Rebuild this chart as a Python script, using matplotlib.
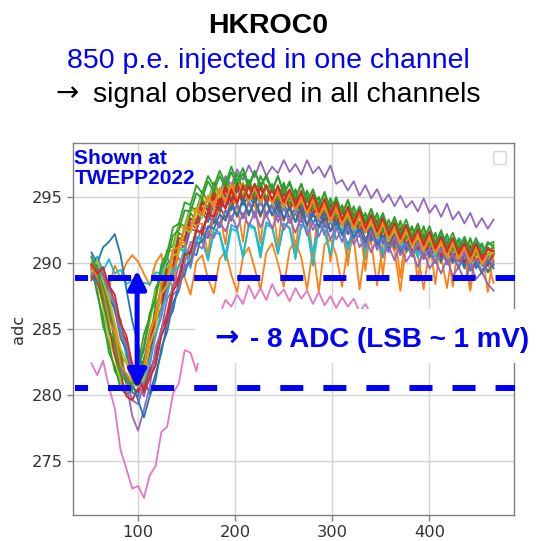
import numpy as np
import matplotlib
matplotlib.use("Agg")
import matplotlib.pyplot as plt
from matplotlib.patches import Rectangle

plt.rcParams["lines.scale_dashes"] = False

# ADC readings per channel; first sample at 52, one reading every 6 samples
first_sample = 52
sample_step = 6

blue_a = [289.5, 290.1, 288.3, 286.8, 284.9, 282.1, 281.6, 280.2, 279.9, 281.9, 283.0, 285.6, 286.4, 288.9, 289.2, 291.1, 290.9, 292.6, 292.4, 293.9, 293.1, 294.5, 293.8, 295.2, 294.0, 295.6, 294.4, 295.1, 294.3, 295.7, 294.6, 295.0, 293.9, 295.3, 294.1, 294.8, 293.5, 294.9, 293.7, 294.2, 292.9, 294.1, 293.0, 293.4, 292.2, 293.6, 292.4, 292.8, 291.6, 292.9, 291.5, 292.3, 291.0, 292.2, 290.8, 291.7, 290.5, 291.8, 290.4, 291.2, 290.0, 291.3, 290.1, 290.6, 289.6, 290.9, 289.7, 290.4, 289.3, 290.1]
orange_saw = [289.6, 288.7, 289.4, 288.1, 289.8, 288.9, 290.0, 290.6, 290.1, 289.2, 288.3, 290.0, 290.7, 287.9, 289.8, 290.4, 288.9, 287.6, 290.1, 290.6, 288.8, 287.7, 290.3, 290.9, 289.1, 287.8, 290.5, 291.2, 289.6, 288.0, 290.8, 291.5, 290.0, 288.2, 291.0, 291.7, 290.4, 288.0, 291.1, 287.8, 291.4, 291.8, 290.6, 288.2, 291.3, 291.9, 288.0, 291.2, 291.6, 288.3, 291.4, 291.9, 290.9, 287.9, 291.3, 291.7, 290.6, 288.0, 291.2, 291.6, 290.5, 288.1, 291.1, 291.5, 290.4, 287.9, 290.9, 291.3, 290.0, 288.5]
green_a = [289.3, 288.0, 285.2, 283.9, 281.8, 281.1, 280.3, 281.2, 282.3, 284.6, 285.9, 288.1, 289.0, 291.0, 291.3, 293.0, 292.8, 294.3, 294.0, 295.4, 294.7, 296.1, 295.2, 296.5, 295.4, 296.8, 295.5, 296.3, 295.2, 296.6, 295.6, 296.0, 294.9, 296.1, 294.8, 295.6, 294.4, 295.5, 294.3, 295.0, 293.8, 294.9, 293.5, 294.3, 293.1, 294.2, 292.9, 293.6, 292.5, 293.7, 292.3, 293.0, 291.9, 293.1, 291.8, 292.6, 291.4, 292.7, 291.3, 292.0, 290.9, 292.1, 290.8, 291.6, 290.5, 291.8, 290.4, 291.3, 290.2, 291.1]
red_a = [288.9, 289.3, 287.6, 286.5, 284.0, 282.9, 280.8, 280.6, 280.2, 281.9, 282.8, 285.5, 286.6, 288.9, 289.3, 291.5, 291.2, 293.0, 292.6, 294.2, 293.5, 295.0, 294.0, 295.6, 294.5, 295.9, 294.7, 295.8, 294.6, 296.0, 294.8, 295.6, 294.4, 295.7, 294.3, 295.1, 293.9, 295.2, 293.8, 294.6, 293.4, 294.7, 293.1, 294.0, 292.8, 293.9, 292.5, 293.3, 292.1, 293.4, 291.9, 292.8, 291.6, 292.7, 291.3, 292.2, 291.0, 292.3, 290.9, 291.7, 290.5, 291.8, 290.4, 291.2, 290.1, 291.4, 290.0, 290.9, 289.8, 290.7]
purple_top = [290.4, 289.5, 288.8, 286.4, 284.6, 282.0, 281.2, 279.6, 279.3, 280.9, 282.2, 284.6, 285.9, 288.2, 288.9, 291.0, 291.3, 293.1, 292.9, 294.6, 294.3, 295.8, 295.2, 296.6, 295.9, 297.1, 296.3, 297.4, 296.5, 297.7, 296.6, 297.3, 296.8, 297.8, 296.9, 297.5, 296.7, 297.8, 296.8, 297.3, 296.5, 297.4, 296.0, 296.3, 295.5, 296.2, 295.1, 295.9, 294.9, 295.6, 294.6, 295.2, 294.3, 295.1, 294.2, 294.7, 293.9, 294.9, 293.8, 294.4, 293.5, 294.5, 293.3, 293.9, 293.0, 293.8, 292.7, 293.4, 292.6, 293.3]
brown_a = [289.7, 290.2, 289.0, 288.6, 286.4, 285.7, 283.2, 282.4, 280.9, 280.6, 281.7, 283.1, 285.0, 286.2, 288.4, 289.0, 290.8, 290.9, 292.5, 292.2, 293.6, 293.0, 294.3, 293.4, 294.7, 293.6, 294.9, 293.8, 294.6, 293.5, 294.8, 293.7, 294.3, 293.2, 294.4, 293.1, 293.9, 292.8, 294.0, 292.7, 293.5, 292.4, 293.6, 292.2, 293.0, 291.9, 293.1, 291.8, 292.6, 291.5, 292.7, 291.4, 292.1, 291.0, 292.2, 290.9, 291.7, 290.6, 291.8, 290.5, 291.2, 290.2, 291.4, 290.1, 290.8, 289.8, 291.0, 289.8, 290.5, 290.2]
pink_a = [282.4, 281.5, 282.6, 280.6, 279.0, 275.8, 274.4, 272.9, 273.1, 272.2, 273.9, 274.6, 277.2, 277.6, 280.1, 280.9, 283.4, 283.2, 281.8, 284.2, 285.0, 286.3, 286.1, 287.2, 286.7, 287.6, 286.9, 288.3, 287.3, 288.1, 287.2, 288.4, 287.5, 288.0, 287.1, 288.1, 287.3, 287.9, 286.9, 287.8, 286.8, 287.5, 286.6, 287.4, 286.7, 287.3, 286.3, 286.9, 286.1, 286.2, 285.5, 285.8, 285.3, 285.6, 285.1, 285.3, 284.8, 285.4, 284.9, 285.0, 284.5, 285.1, 284.6, 284.8, 284.3, 284.9, 284.4, 284.6, 284.1, 284.4]
gray_a = [289.8, 288.6, 287.4, 284.8, 283.6, 281.7, 281.2, 280.7, 281.6, 282.6, 284.9, 286.0, 288.3, 289.2, 291.0, 291.1, 292.8, 292.6, 294.1, 293.6, 295.0, 294.2, 295.5, 294.5, 295.7, 294.8, 295.9, 294.7, 295.6, 294.4, 295.8, 294.5, 295.3, 294.1, 295.2, 293.9, 294.8, 293.6, 294.7, 293.4, 294.2, 293.0, 294.1, 292.8, 293.6, 292.5, 293.6, 292.3, 293.0, 291.9, 293.1, 291.8, 292.5, 291.4, 292.6, 291.3, 292.0, 291.0, 292.1, 290.8, 291.6, 290.6, 291.7, 290.4, 291.1, 290.2, 291.3, 290.1, 290.7, 290.9]
olive_a = [290.1, 288.9, 286.6, 284.3, 282.9, 280.9, 280.2, 280.9, 281.7, 284.1, 285.4, 287.9, 288.6, 290.8, 291.0, 292.8, 292.6, 294.1, 293.8, 295.2, 294.6, 295.9, 295.0, 296.2, 295.1, 296.3, 295.2, 296.0, 294.9, 296.1, 295.0, 295.6, 294.6, 295.8, 294.5, 295.2, 294.1, 295.3, 294.0, 294.7, 293.6, 294.8, 293.4, 294.1, 293.0, 294.1, 292.8, 293.5, 292.4, 293.6, 292.2, 293.0, 291.9, 293.0, 291.7, 292.4, 291.3, 292.5, 291.2, 291.9, 290.8, 292.0, 290.7, 291.4, 290.4, 291.6, 290.4, 291.1, 290.2, 291.4]
cyan_a = [289.9, 290.5, 289.4, 290.3, 289.2, 289.5, 288.4, 288.7, 287.9, 288.5, 288.4, 289.3, 289.2, 290.5, 289.1, 291.0, 291.0, 290.0, 292.0, 291.8, 290.3, 292.3, 292.2, 290.2, 292.6, 292.4, 290.6, 292.8, 292.6, 290.4, 292.9, 292.7, 290.7, 293.0, 292.6, 290.3, 292.9, 292.7, 289.8, 292.8, 292.5, 290.5, 292.7, 292.4, 290.2, 292.6, 292.3, 290.3, 292.5, 292.1, 290.4, 292.3, 292.0, 290.6, 292.2, 291.8, 290.4, 292.0, 291.7, 290.5, 291.9, 291.5, 290.3, 291.7, 291.3, 290.1, 291.5, 291.1, 289.8, 290.8]
blue_b = [290.8, 290.0, 291.2, 291.6, 292.2, 290.6, 288.0, 285.6, 283.9, 281.2, 280.1, 281.6, 283.2, 285.5, 286.4, 288.6, 289.1, 290.8, 290.6, 292.2, 291.9, 293.3, 292.7, 294.0, 293.2, 294.5, 293.4, 294.7, 293.6, 294.8, 293.7, 294.5, 293.5, 294.6, 293.4, 294.2, 293.1, 294.3, 293.0, 293.8, 292.7, 293.9, 292.5, 293.3, 292.2, 293.4, 292.0, 292.8, 291.7, 292.9, 291.5, 292.3, 291.2, 292.4, 291.0, 291.8, 290.7, 291.9, 290.5, 291.3, 290.2, 291.4, 290.0, 290.8, 289.7, 290.9, 289.6, 290.4, 289.3, 289.9]
orange_b = [289.2, 288.3, 288.6, 286.9, 285.2, 283.0, 282.4, 281.0, 281.2, 282.0, 284.4, 285.8, 288.1, 289.0, 288.1, 291.4, 291.6, 289.8, 292.9, 293.0, 290.6, 294.1, 293.8, 291.4, 294.8, 294.4, 291.6, 295.2, 294.6, 291.5, 295.0, 294.7, 291.2, 294.9, 294.4, 290.9, 294.6, 294.2, 290.5, 294.3, 293.9, 290.1, 293.9, 293.5, 289.8, 293.6, 293.1, 289.4, 293.2, 292.8, 289.1, 292.9, 292.4, 288.9, 292.6, 292.1, 288.6, 292.3, 291.8, 288.4, 292.0, 291.5, 288.2, 291.7, 291.3, 288.0, 291.4, 291.0, 287.8, 290.6]
green_b = [289.9, 287.6, 285.9, 283.2, 282.2, 280.5, 280.0, 280.4, 282.5, 283.6, 286.2, 287.2, 289.6, 290.3, 292.1, 292.5, 294.0, 293.9, 295.3, 294.9, 296.2, 295.4, 296.6, 295.7, 296.9, 295.8, 296.8, 295.7, 296.9, 295.9, 296.5, 295.4, 296.6, 295.3, 296.0, 294.9, 296.0, 294.7, 295.5, 294.3, 295.4, 294.0, 294.8, 293.7, 294.8, 293.4, 294.1, 293.0, 294.1, 292.8, 293.5, 292.4, 293.5, 292.2, 292.9, 291.9, 293.0, 291.7, 292.4, 291.3, 292.5, 291.2, 291.9, 290.9, 292.0, 290.8, 291.5, 290.6, 291.6, 291.2]
red_b = [288.7, 289.6, 288.9, 288.3, 287.0, 285.0, 284.1, 281.9, 281.3, 280.4, 281.9, 282.6, 285.0, 285.8, 288.2, 288.8, 290.7, 290.8, 292.5, 292.2, 293.8, 293.4, 294.8, 294.1, 295.5, 294.5, 295.9, 294.8, 296.0, 294.9, 295.8, 294.7, 295.9, 294.6, 295.4, 294.3, 295.5, 294.1, 294.9, 293.8, 294.9, 293.5, 294.3, 293.2, 294.3, 292.9, 293.7, 292.6, 293.7, 292.4, 293.1, 292.0, 293.1, 291.8, 292.6, 291.5, 292.6, 291.3, 292.0, 291.0, 292.1, 290.8, 291.6, 290.5, 291.7, 290.4, 291.1, 290.2, 291.2, 290.8]
purple_b = [289.5, 288.4, 287.9, 285.8, 284.6, 282.4, 280.9, 278.4, 277.3, 278.9, 280.6, 283.6, 284.9, 287.3, 288.0, 289.9, 290.0, 291.6, 291.5, 292.8, 292.5, 293.6, 292.9, 294.0, 293.3, 294.4, 293.4, 294.6, 293.4, 294.7, 293.5, 294.3, 293.1, 294.2, 293.0, 293.8, 292.6, 293.8, 292.5, 293.3, 292.1, 293.2, 291.8, 292.6, 291.4, 292.6, 291.2, 291.9, 290.8, 291.9, 290.6, 291.3, 290.2, 291.4, 290.1, 290.8, 289.7, 290.9, 289.6, 290.2, 289.2, 290.3, 289.0, 289.7, 288.7, 289.9, 288.8, 289.3, 288.4, 287.9]
cyan_b = [289.4, 289.9, 288.5, 288.1, 286.3, 285.1, 282.9, 281.7, 280.6, 281.0, 282.7, 284.4, 286.5, 287.6, 289.4, 289.7, 291.2, 289.6, 292.0, 291.7, 290.2, 292.6, 292.3, 290.6, 292.9, 292.6, 290.4, 293.0, 292.7, 290.9, 293.1, 292.8, 290.7, 293.0, 292.7, 290.5, 292.9, 292.6, 290.8, 292.8, 292.5, 290.6, 292.9, 292.6, 291.0, 292.8, 292.5, 290.9, 292.7, 292.4, 290.7, 292.6, 292.3, 290.8, 292.4, 292.1, 290.6, 292.2, 291.9, 290.5, 292.1, 291.8, 290.3, 291.9, 291.5, 290.1, 291.7, 291.3, 289.9, 290.7]
green_c = [289.0, 290.0, 288.2, 286.6, 284.1, 283.3, 281.0, 280.9, 280.7, 282.8, 283.9, 286.9, 287.6, 290.0, 290.3, 292.3, 291.9, 293.8, 293.2, 294.9, 294.0, 295.6, 294.5, 296.0, 294.8, 296.1, 294.9, 296.2, 294.9, 296.1, 294.9, 295.9, 294.6, 295.9, 294.4, 295.5, 294.2, 295.4, 294.0, 295.0, 293.7, 294.9, 293.4, 294.4, 293.1, 294.3, 292.9, 293.8, 292.5, 293.8, 292.3, 293.3, 292.0, 293.2, 291.8, 292.8, 291.5, 292.8, 291.3, 292.3, 291.0, 292.2, 290.9, 291.8, 290.6, 291.9, 290.6, 291.5, 290.4, 291.4]
red_c = [289.7, 288.7, 287.0, 285.2, 283.0, 281.6, 279.9, 279.6, 280.5, 282.3, 283.7, 286.2, 287.2, 289.5, 289.9, 291.9, 291.7, 293.4, 293.0, 294.6, 293.9, 295.3, 294.4, 295.8, 294.6, 296.0, 294.7, 295.9, 294.6, 295.8, 294.5, 295.6, 294.2, 295.4, 294.0, 295.0, 293.8, 294.9, 293.5, 294.6, 293.2, 294.4, 292.9, 294.0, 292.6, 293.7, 292.4, 293.3, 292.0, 293.2, 291.8, 292.8, 291.5, 292.6, 291.3, 292.2, 291.0, 292.1, 290.8, 291.7, 290.5, 291.6, 290.3, 291.2, 290.0, 291.3, 290.0, 290.8, 289.8, 290.7]
blue_c = [289.1, 288.6, 289.2, 287.4, 286.5, 284.3, 283.4, 280.9, 279.6, 278.3, 279.9, 281.1, 283.6, 284.8, 287.0, 287.9, 289.7, 290.1, 291.5, 291.6, 292.8, 292.6, 293.7, 293.2, 294.4, 293.5, 294.8, 293.6, 294.9, 293.7, 294.6, 293.6, 294.7, 293.4, 294.2, 293.1, 294.3, 292.9, 293.8, 292.7, 293.8, 292.4, 293.2, 292.1, 293.2, 291.9, 292.6, 291.5, 292.7, 291.3, 292.1, 291.0, 292.1, 290.8, 291.6, 290.5, 291.6, 290.3, 291.1, 290.0, 291.2, 289.9, 290.6, 289.6, 290.7, 289.4, 290.1, 289.2, 290.2, 289.6]
olive_b = [289.3, 290.2, 288.6, 287.4, 285.5, 283.5, 282.6, 280.8, 280.6, 281.3, 283.8, 285.1, 287.7, 288.3, 290.6, 290.7, 292.6, 292.3, 293.9, 293.4, 295.0, 294.2, 295.6, 294.6, 295.9, 294.8, 296.0, 294.7, 295.8, 294.6, 295.9, 294.5, 295.4, 294.2, 295.4, 294.0, 294.9, 293.7, 294.8, 293.5, 294.3, 293.1, 294.2, 292.9, 293.7, 292.5, 293.6, 292.3, 293.1, 291.9, 293.0, 291.7, 292.5, 291.4, 292.5, 291.2, 292.0, 290.9, 292.0, 290.7, 291.5, 290.4, 291.5, 290.3, 291.0, 290.0, 291.1, 289.9, 290.6, 290.8]
purple_c = [289.0, 289.7, 289.0, 288.0, 286.9, 284.6, 283.9, 281.4, 280.9, 279.9, 281.5, 282.3, 284.6, 285.4, 287.6, 288.1, 289.9, 289.8, 291.4, 291.1, 292.4, 291.9, 293.1, 292.4, 293.6, 292.6, 293.8, 292.8, 293.9, 292.7, 293.7, 292.6, 293.8, 292.5, 293.4, 292.3, 293.5, 292.1, 293.1, 292.0, 293.1, 291.8, 292.7, 291.6, 292.8, 291.4, 292.3, 291.2, 292.4, 291.0, 291.9, 290.8, 292.0, 290.6, 291.5, 290.5, 291.6, 290.3, 291.1, 290.1, 291.2, 289.9, 290.7, 289.7, 290.9, 289.5, 290.3, 289.4, 290.4, 289.8]
orange_c = [289.8, 288.9, 287.8, 285.6, 284.7, 282.3, 281.6, 280.9, 281.4, 282.1, 284.6, 286.1, 288.5, 289.0, 291.0, 291.2, 292.8, 292.6, 294.2, 293.7, 295.1, 294.3, 295.7, 294.6, 296.0, 294.8, 296.1, 294.8, 295.9, 294.7, 295.9, 294.6, 295.5, 294.3, 295.4, 294.0, 295.0, 293.8, 294.8, 293.5, 294.5, 293.2, 294.2, 292.9, 293.9, 292.6, 293.6, 292.3, 293.3, 292.0, 293.1, 291.8, 292.7, 291.5, 292.6, 291.3, 292.2, 291.0, 292.1, 290.8, 291.7, 290.5, 291.7, 290.4, 291.2, 290.1, 291.2, 290.0, 290.7, 291.0]
green_d = [290.5, 289.4, 287.3, 285.0, 283.9, 281.5, 281.0, 280.8, 282.0, 283.4, 286.0, 287.4, 289.9, 290.8, 292.7, 293.0, 294.6, 294.4, 295.9, 295.3, 296.6, 295.8, 297.0, 296.0, 297.3, 296.2, 297.2, 295.9, 297.0, 295.8, 296.7, 295.5, 296.6, 295.2, 296.2, 294.9, 296.0, 294.6, 295.6, 294.3, 295.3, 294.0, 295.0, 293.7, 294.7, 293.4, 294.3, 293.1, 294.1, 292.8, 293.8, 292.5, 293.4, 292.3, 293.3, 292.0, 292.9, 291.8, 292.8, 291.5, 292.4, 291.3, 292.3, 291.1, 291.9, 290.9, 291.9, 290.7, 291.4, 291.6]
red_d = [289.9, 289.2, 289.7, 288.3, 287.6, 285.4, 284.5, 282.3, 281.6, 280.2, 281.3, 282.2, 284.5, 285.6, 287.9, 288.6, 290.6, 290.8, 292.4, 292.4, 293.8, 293.5, 294.9, 294.2, 295.6, 294.6, 295.9, 294.9, 296.0, 294.9, 295.9, 294.8, 295.8, 294.6, 295.6, 294.4, 295.3, 294.1, 295.2, 293.9, 294.8, 293.6, 294.6, 293.3, 294.2, 293.0, 294.0, 292.7, 293.6, 292.4, 293.4, 292.2, 293.0, 291.9, 292.9, 291.6, 292.5, 291.4, 292.4, 291.1, 292.0, 290.9, 291.9, 290.7, 291.5, 290.5, 291.5, 290.3, 291.0, 290.9]

channels = [blue_a, orange_saw, green_a, red_a, purple_top, brown_a, pink_a, gray_a,
            olive_a, cyan_a, blue_b, orange_b, green_b, red_b, purple_b, cyan_b,
            green_c, red_c, blue_c, olive_b, purple_c, orange_c, green_d, red_d]
channel_colors = ["C0", "C1", "C2", "C3", "C4", "C5", "C6", "C7",
                  "C8", "C9", "C0", "C1", "C2", "C3", "C4", "C9",
                  "C2", "C3", "C0", "C8", "C4", "C1", "C2", "C3"]

x_ticks = [100, 200, 300, 400]
y_ticks = [275, 280, 285, 290, 295]
baseline_level = 288.9
minimum_level = 280.5

W, H = 537, 541
fig = plt.figure(figsize=(W / 100, H / 100), dpi=100)
fig.patch.set_facecolor("white")


def px(x, y):
    """figure pixel (from top-left) -> figure fraction"""
    return x / W, 1 - y / H


ax = fig.add_axes([73 / W, 1 - 515 / H, (514 - 73) / W, (515 - 143) / H])
for ys, c in zip(channels, channel_colors):
    xs = first_sample + sample_step * np.arange(len(ys))
    ax.plot(xs, ys, color=c, lw=1.3)

ax.set_xlim(33, 487)
ax.set_ylim(270.9, 299.1)
ax.set_xticks(x_ticks)
ax.set_yticks(y_ticks)
ax.grid(True, color="#d4d4d4", lw=1.0)
ax.set_axisbelow(True)
for s in ax.spines.values():
    s.set_color("#808080")
    s.set_linewidth(1.0)
ax.tick_params(colors="#808080", labelcolor="#333333", labelsize=11.7,
               length=4.5, width=1.0, pad=3)
ax.set_ylabel("adc", fontsize=11.7, color="#333333", labelpad=4)
ax.legend(handles=[], labels=[], loc="upper right", fontsize=11.7)

# reference levels and amplitude arrow
dash = (7.2, (16.6, 14.4))
for lvl in (baseline_level, minimum_level):
    ax.axhline(lvl, xmin=0.005, xmax=1.003, color="#0000ff", lw=4.3,
               linestyle=dash, clip_on=False, zorder=5)
ax.annotate("", xy=(99, 289.45), xytext=(99, 280.5),
            arrowprops=dict(arrowstyle="<|-|>,head_length=1.1,head_width=0.55",
                            mutation_scale=10, lw=3.6, color="#0000ff",
                            shrinkA=0, shrinkB=0), zorder=6)

ax.text(0.003, 0.985, "Shown at\nTWEPP2022", transform=ax.transAxes,
        ha="left", va="top", fontsize=15, fontweight="bold", color="#0000ff",
        family="Liberation Sans", linespacing=1.12, zorder=7)

# white label box over the plot
x0, y0 = px(195, 363)
x1, y1 = px(537, 309)
fig.add_artist(Rectangle((x0, y0), x1 - x0, y1 - y0, transform=fig.transFigure,
                         facecolor="white", edgecolor="none", zorder=10))
tx, ty = px(214, 339)
fig.text(tx, ty, "\u2192", ha="left", va="center", fontsize=21,
         fontweight="bold", color="#0000ff", family="DejaVu Sans", zorder=11)
tx, ty = px(250, 347)
fig.text(tx, ty, "- 8 ADC (LSB ~ 1 mV)", ha="left", va="baseline",
         fontsize=20, fontweight="bold", color="#0000ff",
         family="Liberation Sans", zorder=11)

# heading
hx, hy = px(268.5, 33)
fig.text(hx, hy, "HKROC0", ha="center", va="baseline", fontsize=20.5,
         fontweight="bold", family="Liberation Sans", color="black")
hx, hy = px(268.5, 68)
fig.text(hx, hy, "850 p.e. injected in one channel", ha="center", va="baseline",
         fontsize=20.5, family="Liberation Sans", color="#0000ff")
hx, hy = px(55, 93)
fig.text(hx, hy, "\u2192", ha="left", va="center", fontsize=20,
         family="DejaVu Sans", color="black")
hx, hy = px(93, 102)
fig.text(hx, hy, "signal observed in all channels", ha="left",
         va="baseline", fontsize=20.5, family="Liberation Sans", color="black")

fig.savefig("out.png", dpi=100, facecolor="white")
